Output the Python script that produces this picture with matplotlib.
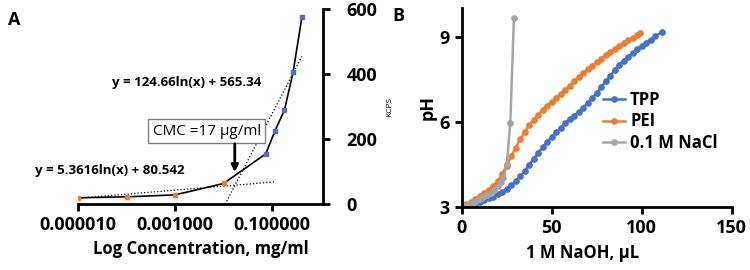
import numpy as np
import matplotlib.pyplot as plt

plt.rcParams['font.family'] = ['Open Sans', 'DejaVu Sans']

# panel A: fluorescence vs concentration
conc_low = [1e-5, 1e-4, 1e-3, 1e-2]
kcps_low = [20, 23, 29, 64]
conc_high = [0.074, 0.115, 0.18, 0.27, 0.41]
kcps_high = [155, 226, 290, 405, 574]
fit_low = (5.3616, 80.542)
fit_high = (124.66, 565.34)
cmc = 0.017

# panel B: titration curves
tpp_x = [0, 2.5, 5, 7.5, 10, 12.5, 15, 17.5, 20, 22.5, 25, 27.5, 30, 32.5, 35, 37.5,
         40, 42.5, 45, 47.5, 50, 52.5, 55, 57.5, 60, 62.5, 65, 67.5, 70, 72.5, 75,
         77.5, 80, 82.5, 85, 87.5, 90, 92.5, 95, 97.5, 100, 102.5, 105, 107.5, 111]
tpp_y = [3.00, 3.03, 3.07, 3.11, 3.16, 3.22, 3.29, 3.36, 3.44, 3.53, 3.63, 3.75, 3.90,
         4.07, 4.27, 4.48, 4.70, 4.90, 5.10, 5.28, 5.45, 5.62, 5.78, 5.94, 6.08, 6.21,
         6.35, 6.50, 6.66, 6.83, 7.02, 7.22, 7.42, 7.62, 7.82, 8.00, 8.15, 8.29, 8.42,
         8.55, 8.67, 8.79, 8.90, 9.01, 9.15]
pei_x = [0, 2.5, 5, 7.5, 10, 12.5, 15, 17.5, 20, 22.5, 25, 27.5, 30, 32.5, 35, 37.5,
         40, 42.5, 45, 47.5, 50, 52.5, 55, 57.5, 60, 62.5, 65, 67.5, 70, 72.5, 75,
         77.5, 80, 82.5, 85, 87.5, 90, 92.5, 95, 97.5, 99]
pei_y = [3.00, 3.08, 3.17, 3.27, 3.37, 3.48, 3.60, 3.74, 3.90, 4.15, 4.45, 4.78, 5.08,
         5.38, 5.64, 5.88, 6.06, 6.24, 6.41, 6.56, 6.71, 6.85, 6.99, 7.13, 7.27, 7.42,
         7.57, 7.72, 7.86, 7.98, 8.10, 8.22, 8.34, 8.45, 8.56, 8.67, 8.78, 8.88, 8.97,
         9.06, 9.12]
nacl_x = [0, 2, 4, 6, 8, 10, 12, 14, 16, 18, 20, 22, 23, 25, 27, 29]
nacl_y = [3.00, 3.04, 3.09, 3.14, 3.20, 3.26, 3.33, 3.41, 3.50, 3.60, 3.72, 3.86, 4.0,
          4.5, 5.95, 9.65]

blue = '#4472C4'
orange = '#ED7D31'
gray = '#A5A5A5'

fig = plt.figure(figsize=(7.5, 2.7), dpi=100)

#%% panel A
axA = fig.add_axes([0.104, 0.2433, 0.3267, 0.7234])
xs = conc_low + conc_high
ys = kcps_low + kcps_high
axA.plot(xs, ys, color='black', lw=1.2, zorder=2)
axA.plot(conc_low, kcps_low, 's', color=orange, ms=3.5, zorder=3)
axA.plot(conc_high, kcps_high, 's', color=blue, ms=3.5, zorder=3)

xl = np.array([1e-5, 0.11])
axA.plot(xl, fit_low[0] * np.log(xl) + fit_low[1], ':', color='black', lw=0.9)
xh = np.array([np.exp(-fit_high[1] / fit_high[0]), 0.41])
axA.plot(xh, fit_high[0] * np.log(xh) + fit_high[1], ':', color='black', lw=0.9)

axA.set_xscale('log')
axA.set_xlim(1e-5, 1.12)
axA.set_ylim(0, 600)
axA.set_xticks([1e-5, 1e-3, 1e-1])
axA.set_xticklabels(['0.000010', '0.001000', '0.100000'])
axA.minorticks_off()
axA.set_yticks([0, 200, 400, 600])
axA.yaxis.tick_right()
axA.yaxis.set_label_position('right')
for s in ['top', 'left']:
    axA.spines[s].set_visible(False)
for s in ['bottom', 'right']:
    axA.spines[s].set_linewidth(2)
axA.tick_params(width=2, length=5, labelsize=13)
axA.tick_params(axis='y', pad=12)
for lab in axA.get_xticklabels() + axA.get_yticklabels():
    lab.set_fontweight('bold')
axA.set_xlabel('Log Concentration, mg/ml', fontsize=12, fontweight='bold', labelpad=4)
axA.set_ylabel('KCPS', fontsize=6, labelpad=6)

axA.text(0.0045, 224, 'CMC =17 µg/ml', fontsize=11, ha='center', va='center',
         bbox=dict(boxstyle='square,pad=0.3', fc='white', ec='#808080', lw=1))
axA.annotate('', xy=(cmc, 99), xytext=(cmc, 186),
             arrowprops=dict(arrowstyle='-|>', color='black', lw=2, mutation_scale=10,
                             shrinkA=0, shrinkB=0))
axA.text(0.0017, 374, 'y = 124.66ln(x) + 565.34', fontsize=9.5, fontweight='bold',
         ha='center', va='center')
axA.text(4.6e-5, 105, 'y = 5.3616ln(x) + 80.542', fontsize=9.5, fontweight='bold',
         ha='center', va='center')
fig.text(0.011, 0.96, 'A', fontsize=13, fontweight='bold', va='top')

#%% panel B
axB = fig.add_axes([0.6156, 0.2344, 0.36, 0.7346])
axB.plot(tpp_x, tpp_y, '-o', color=blue, ms=3.8, lw=1.8, label='TPP')
axB.plot(pei_x, pei_y, '-o', color=orange, ms=3.8, lw=1.8, label='PEI')
axB.plot(nacl_x, nacl_y, '-o', color=gray, ms=3.8, lw=1.8, label='0.1 M NaCl')
axB.set_xlim(0, 150)
axB.set_ylim(3, 10)
axB.set_xticks([0, 50, 100, 150])
axB.set_yticks([3, 6, 9])
for s in ['top', 'right']:
    axB.spines[s].set_visible(False)
for s in ['bottom', 'left']:
    axB.spines[s].set_linewidth(2)
axB.tick_params(width=2, length=5, labelsize=13)
for lab in axB.get_xticklabels() + axB.get_yticklabels():
    lab.set_fontweight('bold')
axB.set_xlabel('1 M NaOH, µL', fontsize=12, fontweight='bold', labelpad=4)
axB.xaxis.set_label_coords(0.446, -0.19)
axB.set_ylabel('pH', fontsize=13, fontweight='bold', labelpad=2)
axB.legend(loc='center left', bbox_to_anchor=(0.5, 0.43), frameon=False,
           handlelength=1.3, handletextpad=0.3, labelspacing=0.2,
           prop={'size': 12, 'weight': 'bold'}, borderaxespad=0)
fig.text(0.523, 0.975, 'B', fontsize=13, fontweight='bold', va='top')

fig.savefig('out.png', dpi=100)
